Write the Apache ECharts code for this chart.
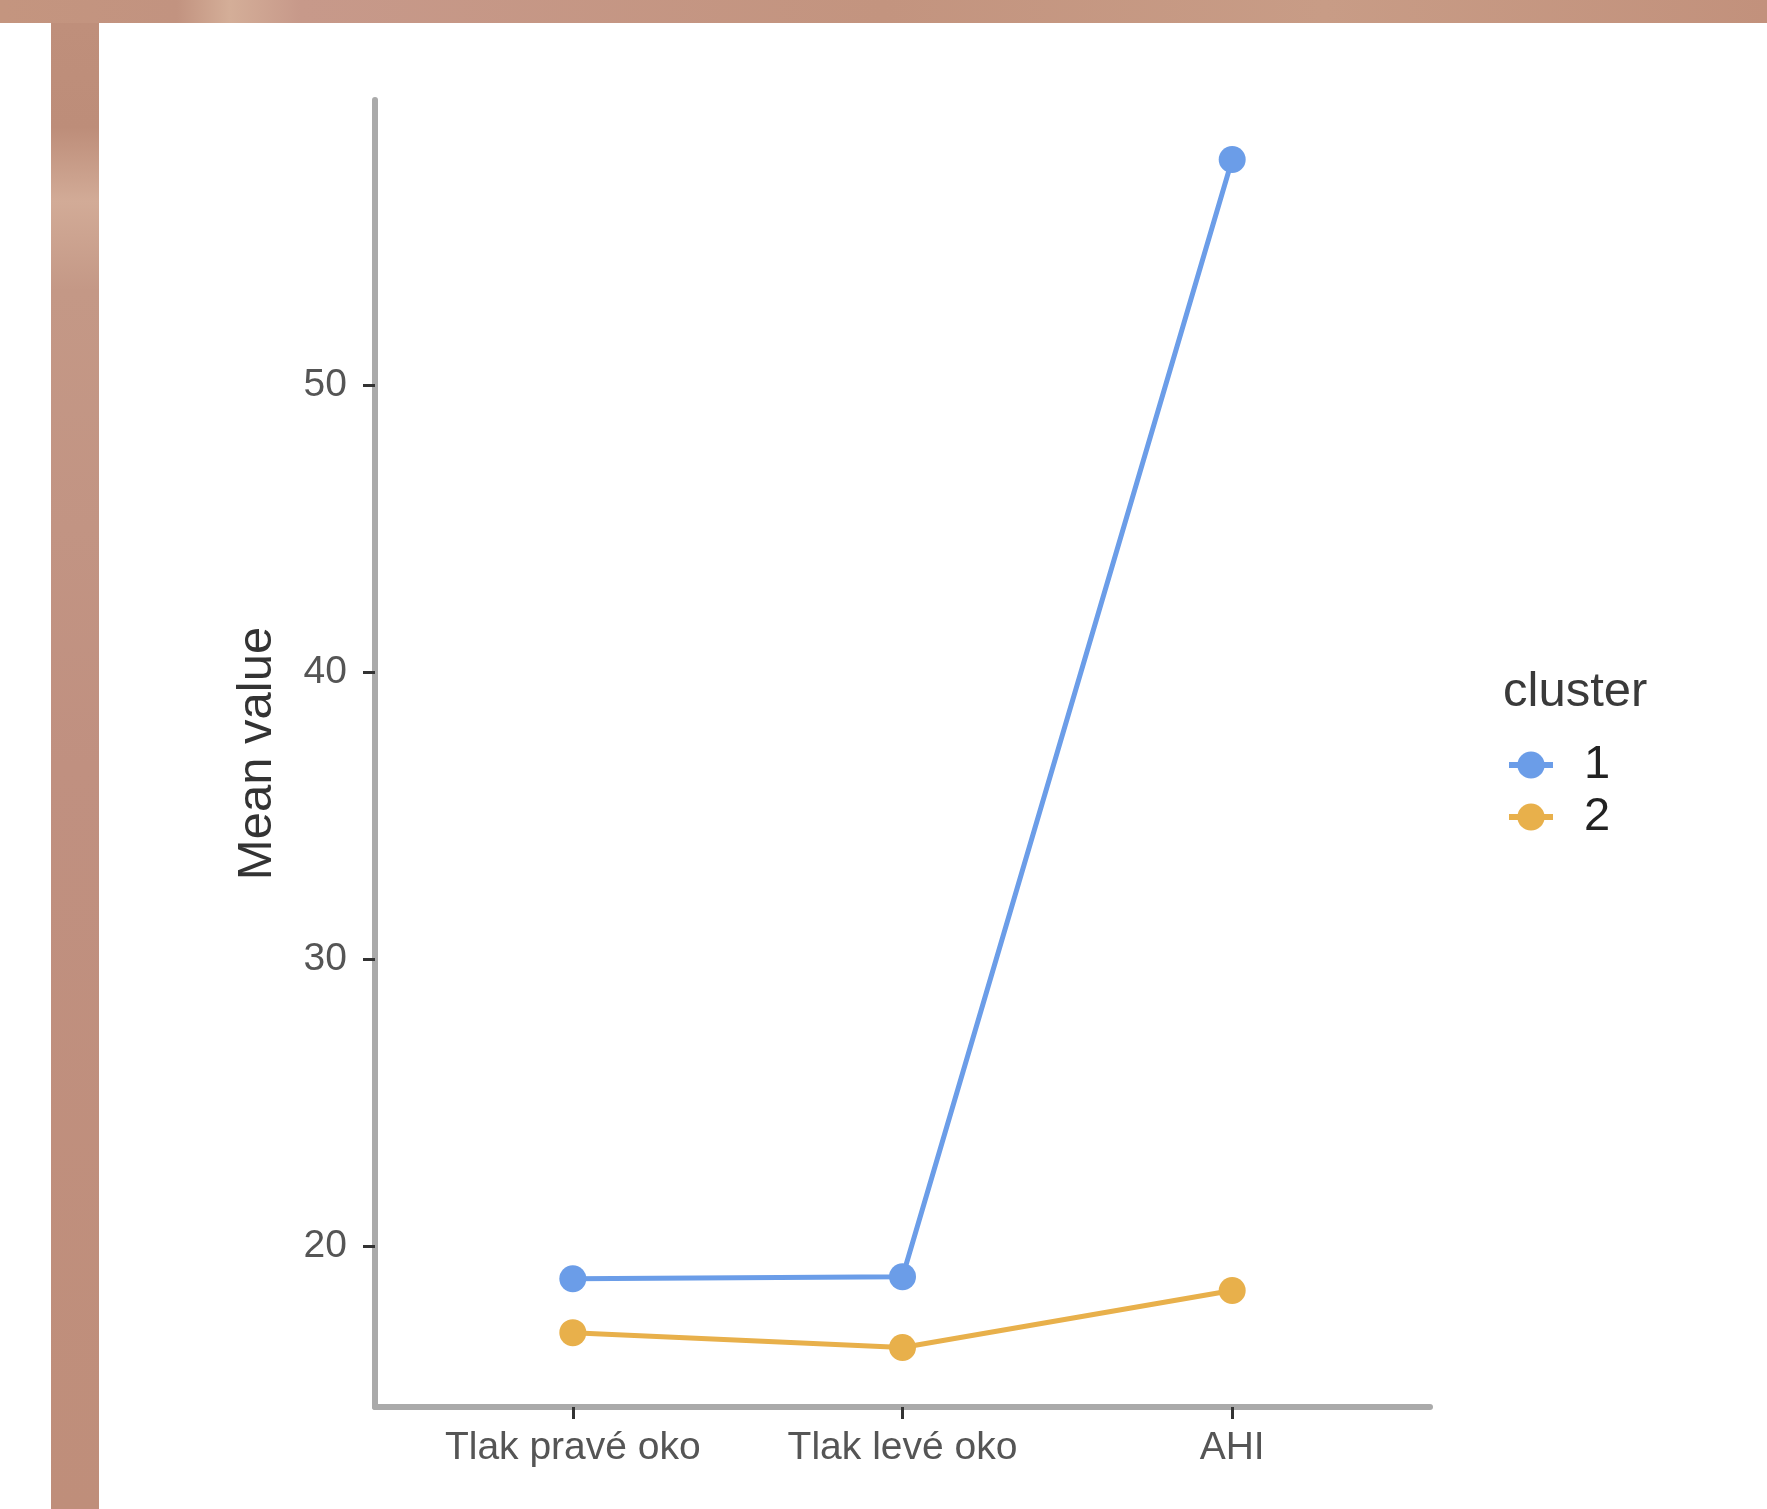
<!DOCTYPE html>
<html>
<head>
<meta charset="utf-8">
<script src="https://cdn.jsdelivr.net/npm/echarts@6/dist/echarts.min.js"></script>
<style>
html,body{margin:0;padding:0;background:#ffffff;}
#chart{width:1767px;height:1509px;}
</style>
</head>
<body>
<div id="chart"></div>
<script>
// ---- data ----
const categories = ['Tlak pravé oko', 'Tlak levé oko', 'AHI'];
const categoryPositions = [1, 2, 3];
const cluster1 = [18.88, 18.95, 57.87];
const cluster2 = [17.0, 16.48, 18.47];
const yTicks = [20, 30, 40, 50];
const clusterNames = ['1', '2'];

const font = 'Liberation Sans, Arial, Helvetica, sans-serif';
const toPoints = arr => arr.map((v, i) => [categoryPositions[i], v]);

const chart = echarts.init(document.getElementById('chart'), null, {renderer: 'canvas'});
chart.setOption({
  animation: false,
  backgroundColor: '#ffffff',
  graphic: [
    {type: 'rect', silent: true, z: -1, shape: {x: 0, y: 0, width: 1767, height: 23},
      style: {fill: new echarts.graphic.LinearGradient(0, 0, 1, 0, [
        {offset: 0, color: '#c4957f'}, {offset: 0.1, color: '#c29380'},
        {offset: 0.13, color: '#d4ae98'}, {offset: 0.17, color: '#c7998a'},
        {offset: 0.5, color: '#c3947f'}, {offset: 0.75, color: '#c89c86'},
        {offset: 1, color: '#c2917c'}])}},
    {type: 'rect', silent: true, z: -1, shape: {x: 51, y: 23, width: 48, height: 1486},
      style: {fill: new echarts.graphic.LinearGradient(0, 0, 0, 1, [
        {offset: 0, color: '#bf8f7b'}, {offset: 0.07, color: '#bd8d79'},
        {offset: 0.12, color: '#d2ab97'}, {offset: 0.18, color: '#c49886'},
        {offset: 0.5, color: '#c09080'}, {offset: 1, color: '#bf8e7a'}])}}
  ],
  title: {
    text: 'cluster', left: 1503, top: 668, padding: 0,
    textStyle: {fontFamily: font, fontSize: 49, fontWeight: 'normal', color: '#3a3a3a'}
  },
  legend: {
    data: clusterNames,
    orient: 'vertical', left: 1501, top: 734,
    itemWidth: 44, itemHeight: 34, itemGap: 0,
    lineStyle: {width: 6},
    formatter: '  {name}',
    textStyle: {fontFamily: font, fontSize: 47, color: '#222222', lineHeight: 52}
  },
  grid: {left: 375, right: 337, top: 100, bottom: 102},
  xAxis: {
    type: 'value', min: 0.4, max: 3.6,
    splitLine: {show: false},
    axisLine: {show: true, lineStyle: {color: '#aaaaaa', width: 6}},
    axisTick: {show: true, customValues: categoryPositions, length: 12, lineStyle: {color: '#333333', width: 3}},
    axisLabel: {customValues: categoryPositions, formatter: v => categories[Math.round(v) - 1],
      fontFamily: font, fontSize: 39, color: '#555555', margin: 22}
  },
  yAxis: {
    type: 'value', min: 14.41, max: 59.94,
    name: 'Mean value', nameLocation: 'middle', nameGap: 93, nameRotate: 90,
    nameTextStyle: {fontFamily: font, fontSize: 49, color: '#333333'},
    splitLine: {show: false},
    axisLine: {show: true, lineStyle: {color: '#aaaaaa', width: 6}},
    axisTick: {show: true, customValues: yTicks, length: 12, lineStyle: {color: '#333333', width: 3}},
    axisLabel: {customValues: yTicks, fontFamily: font, fontSize: 39, color: '#555555', margin: 28}
  },
  series: [
    {name: clusterNames[0], type: 'line', data: toPoints(cluster1),
      symbol: 'circle', symbolSize: 27,
      lineStyle: {color: '#6b9de8', width: 5}, itemStyle: {color: '#6b9de8'}},
    {name: clusterNames[1], type: 'line', data: toPoints(cluster2),
      symbol: 'circle', symbolSize: 27,
      lineStyle: {color: '#e8b04b', width: 5}, itemStyle: {color: '#e8b04b'}}
  ]
});
</script>
</body>
</html>
